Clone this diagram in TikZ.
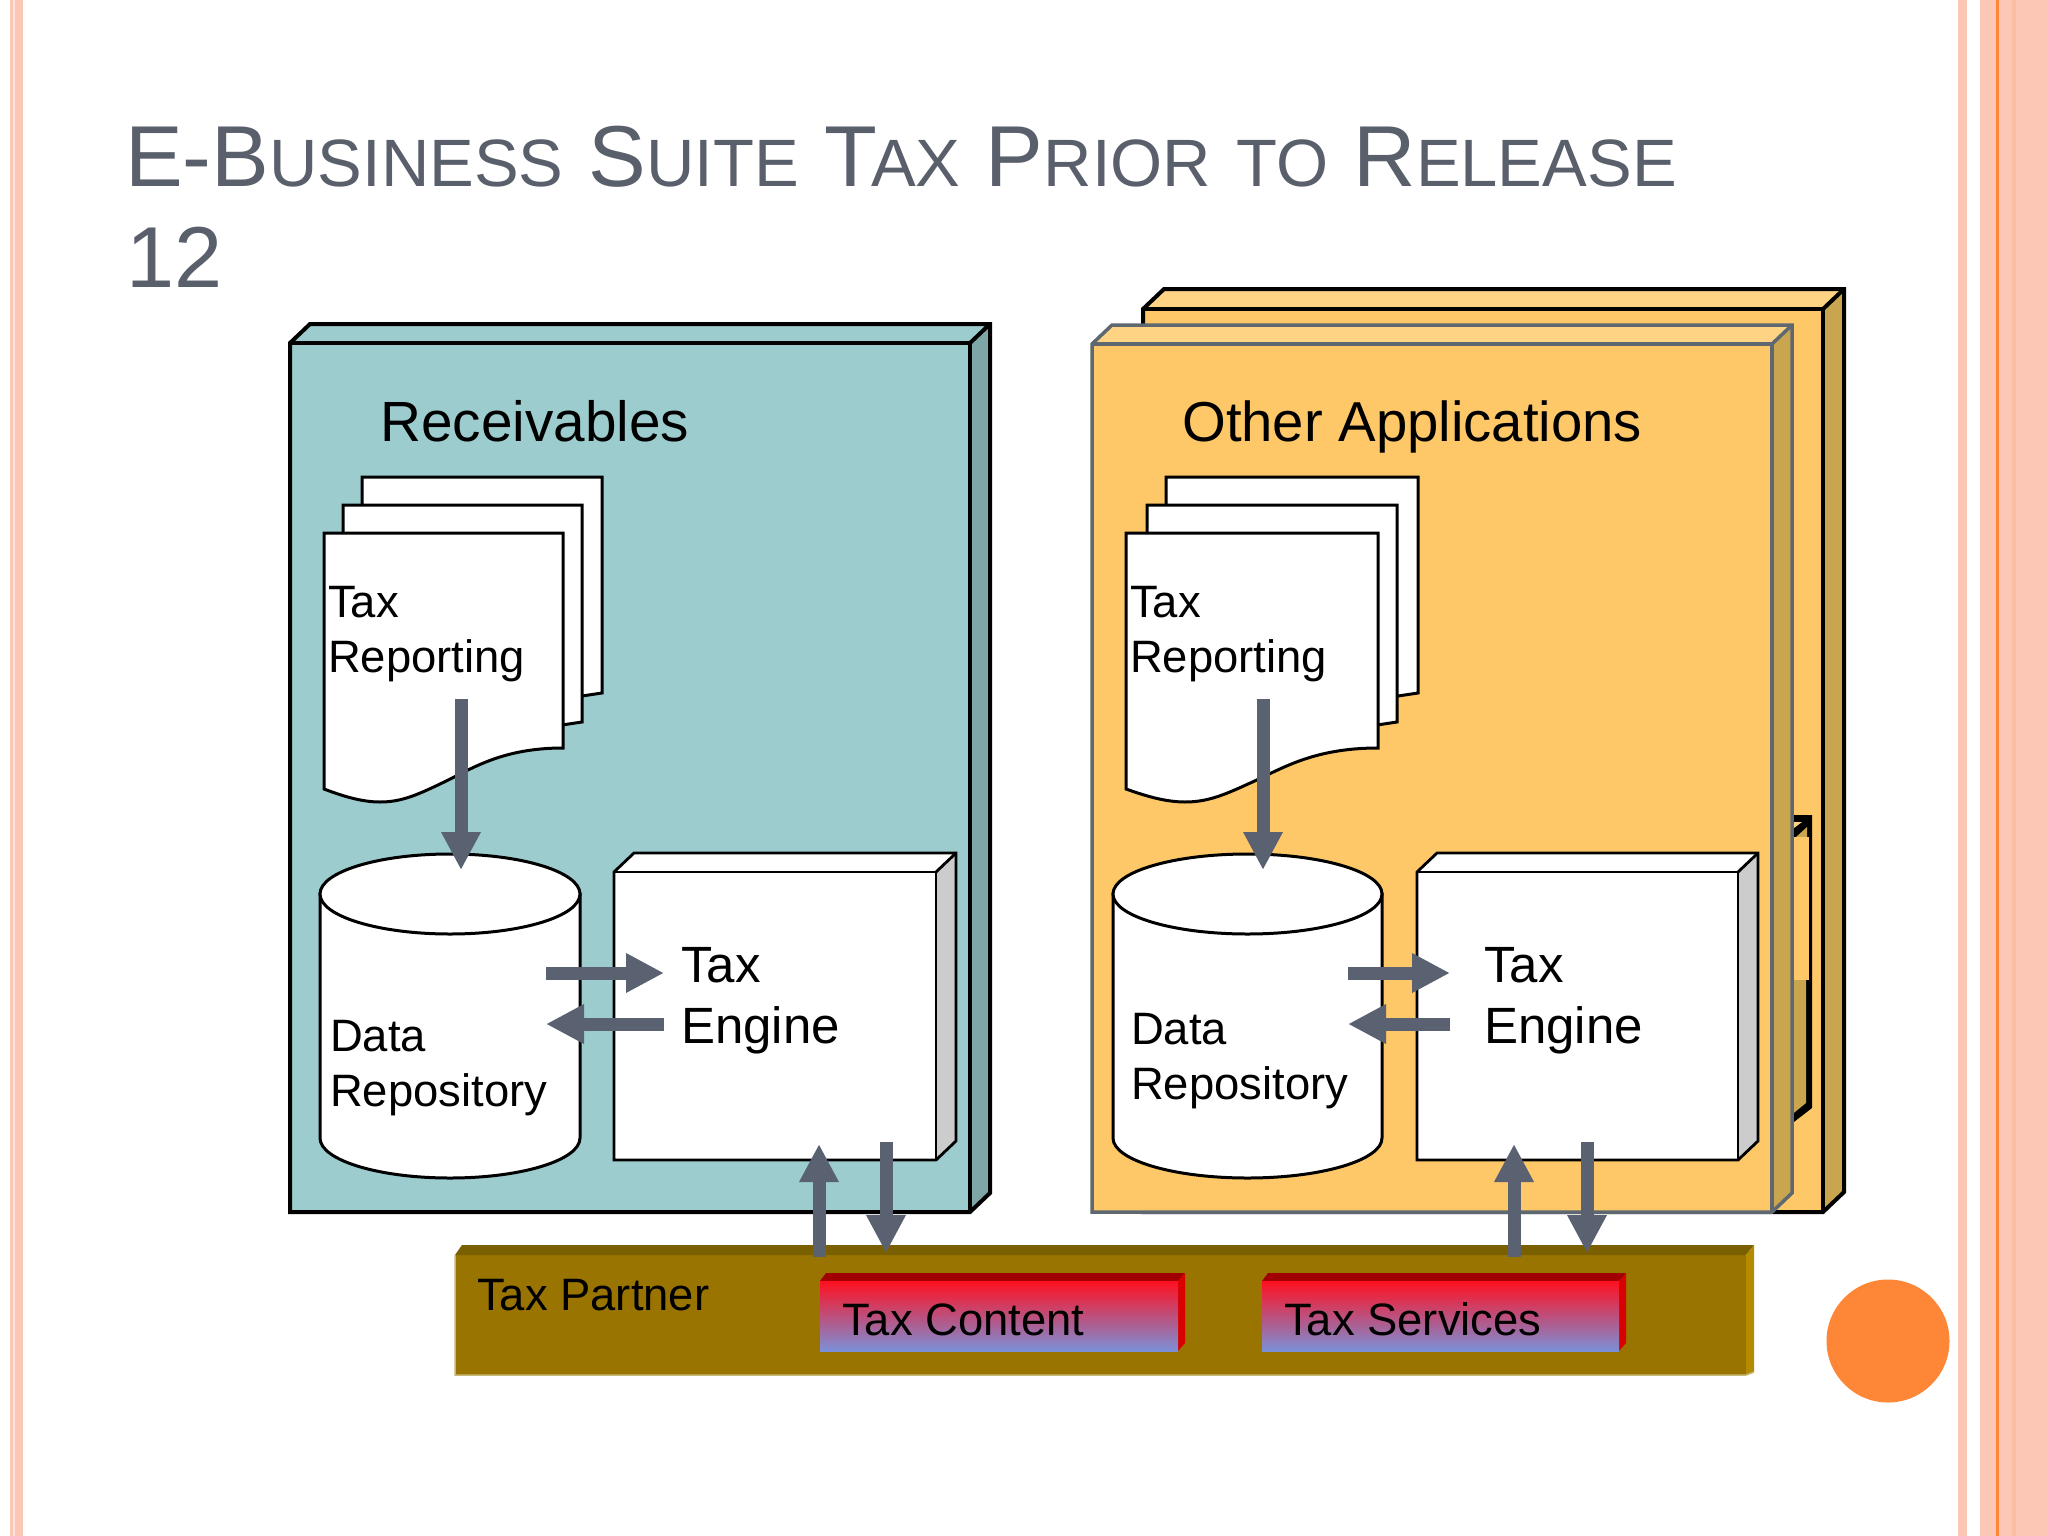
\documentclass[tikz,border=0pt]{standalone}
\usepackage{fontspec}
\setmainfont{Liberation Sans}
\usetikzlibrary{arrows.meta,shapes.geometric}
\definecolor{stripe}{HTML}{FCC8B5}
\definecolor{stripep}{HTML}{FDE3D8}
\definecolor{orangec}{HTML}{FE8637}
\definecolor{titlec}{HTML}{5A5F6C}
\definecolor{arrowc}{HTML}{5A6272}
\definecolor{tealf}{HTML}{9CCCCE}
\definecolor{teals}{HTML}{7FA6A7}
\definecolor{yelf}{HTML}{FEC868}
\definecolor{yelt}{HTML}{FED383}
\definecolor{yels}{HTML}{C9A550}
\definecolor{greyl}{HTML}{5E6870}
\definecolor{barf}{HTML}{9A7400}
\definecolor{bart}{HTML}{7A6000}
\definecolor{bars}{HTML}{B38A00}
\definecolor{barl}{HTML}{C8B878}
\definecolor{redt}{HTML}{A00000}
\definecolor{reds}{HTML}{D80000}
\definecolor{redg}{HTML}{FF1020}
\definecolor{blueg}{HTML}{7A90D8}
\newcommand{\tlg}[1]{{\fontsize{86.5}{87}\selectfont #1}}
\newcommand{\tsm}[1]{{\fontsize{67}{67}\selectfont #1}}
\newcommand{\tsp}{\hspace{25.3pt}}
% left top right bottom depth front top side style
\newcommand{\slab}[9]{%
  \fill[#6] (#1,#2) rectangle (#3,#4);
  \fill[#7] (#1,#2) -- ({#1+#5},{#2-#5*0.95}) -- ({#3+#5},{#2-#5*0.95}) -- (#3,#2) -- cycle;
  \fill[#8] (#3,#2) -- ({#3+#5},{#2-#5*0.95}) -- ({#3+#5},{#4-#5*0.95}) -- (#3,#4) -- cycle;
  \draw[#9] (#1,#2) -- (#3,#2) -- (#3,#4);
  \draw[#9] (#3,#2) -- ({#3+#5},{#2-#5*0.95});
  \draw[#9,line join=miter] (#1,#2) -- ({#1+#5},{#2-#5*0.95}) -- ({#3+#5},{#2-#5*0.95}) -- ({#3+#5},{#4-#5*0.95}) -- (#3,#4) -- (#1,#4) -- cycle;
}
\newcommand{\sheet}[4]{%
  \draw[sheetline,fill=white] (#1,#2) -- (#3,#2) -- (#3,#4) -- ({#3-20},{#4+3}) -- ({#1+20},{#4+3}) -- (#1,{#4+3}) -- cycle;
}
\newcommand{\cyl}[6]{% left right topY bottomY ry name
  \draw[cylline,fill=white] (#1,{#3+#5}) -- (#1,{#4-#5})
    .. controls (#1,{#4-#5+0.5523*#5}) and ({#1+(#2-#1)*0.2238},#4) .. ({(#1+#2)/2},#4)
    .. controls ({#2-(#2-#1)*0.2238},#4) and (#2,{#4-#5+0.5523*#5}) .. (#2,{#4-#5}) -- (#2,{#3+#5}) -- cycle;
  \node[cylline,draw,fill=white,ellipse,inner sep=0pt,minimum width={(#2-#1)*1pt},minimum height={2*#5*1pt}] (#6) at ({(#1+#2)/2},{#3+#5}) {};
}
\tikzset{
  x=1pt,y=-1pt,
  sheetline/.style={draw=black,line width=3pt,line join=miter},
  cylline/.style={draw=black,line width=3pt},
  flow/.style={draw=arrowc,line width=13pt,-{Triangle[width=37pt,length=38pt]}},
  txt/.style={anchor=base west,inner sep=0pt,text=black},
  blackb/.style={draw=black,line width=4pt},
  greyb/.style={draw=greyl,line width=3.5pt},
  thinb/.style={draw=black,line width=2.8pt},
  ttl/.style={anchor=base west,inner sep=0pt,text=titlec},
  small/.style={font=\fontsize{45.4}{46}\selectfont},
  mid/.style={font=\fontsize{51}{51}\selectfont},
}
\begin{document}
\begin{tikzpicture}
\useasboundingbox (0,0) rectangle (2048,1536);
\fill[white] (0,0) rectangle (2048,1536);
% side stripes
\fill[stripe] (10,0) rectangle (23,1536);
\fill[stripep] (13,0) rectangle (14.5,1536);
\fill[stripe] (1958,0) rectangle (1967,1536);
\fill[stripe] (1980,0) rectangle (2048,1536);
\fill[orangec] (1996,0) rectangle (1998.5,1536);
\fill[stripe!85!orangec] (2012,0) rectangle (2016,1536);
% title
\node[ttl] (title1) at (125,186) {\tlg{E-B}\tsm{USINESS}\tsp\tlg{S}\tsm{UITE}\tsp\tlg{T}\kern-6pt\tsm{AX}\tsp\tlg{P}\tsm{RIOR}\tsp\tsm{TO}\tsp\tlg{R}\tsm{ELEASE}};
\node[ttl] (title2) at (126,287) {\tlg{12}};
% back yellow
\slab{1143}{309}{1823}{1212}{21}{yelf}{yelt}{yels}{blackb}
% sliver of third panel
\fill[black] (1790,815) -- (1812,815) -- (1812,1108) -- (1790,1125) -- cycle;
\fill[yelt] (1790,822) -- (1802,822) -- (1790,831) -- cycle;
\fill[yels] (1796,837) -- (1807,827) -- (1807,837) -- cycle;
\fill[yelf] (1790,837) rectangle (1809,980);
\fill[yels] (1790,980) -- (1806,980) -- (1806,1103) -- (1790,1116) -- cycle;
% front panels
\slab{290}{343}{970}{1212}{20}{tealf}{tealf}{teals}{blackb}
\slab{1092}{344}{1772}{1212}{20}{yelf}{yelt}{yels}{greyb}
% panel titles
\node[txt,font=\fontsize{56.7}{57}\selectfont] (recv) at (380,441) {Receivables};
\node[txt,font=\fontsize{56.3}{57}\selectfont] (other) at (1182,441) {Other Applications};
% documents left
\sheet{362}{477}{602}{693}
\sheet{343}{505}{582}{722}
\draw[sheetline,fill=white] (324,533) -- (563,533) -- (563,748)
  .. controls (500,748) and (470,770) .. (440,784)
  .. controls (415,796) and (400,802) .. (380,802)
  .. controls (360,802) and (340,795) .. (324,789) -- cycle;
\node[txt,small] (trep1a) at (328,617) {Tax};
\node[txt,small] (trep1b) at (328,672) {Reporting};
% documents right
\sheet{1166}{477}{1418}{693}
\sheet{1147}{505}{1397}{722}
\draw[sheetline,fill=white] (1126,533) -- (1378,533) -- (1378,748)
  .. controls (1311,748) and (1280,770) .. (1248,784)
  .. controls (1222,796) and (1206,802) .. (1185,802)
  .. controls (1164,802) and (1143,795) .. (1126,789) -- cycle;
\node[txt,small] (trep2a) at (1130,617) {Tax};
\node[txt,small] (trep2b) at (1130,672) {Reporting};
% cylinders
\cyl{320}{580}{854}{1178}{40}{repo1}
\cyl{1113}{1382}{854}{1178}{40}{repo2}
\node[txt,small] (d1a) at (330,1051) {Data};
\node[txt,small] (d1b) at (330,1106) {Repository};
\node[txt,small] (d2a) at (1131,1044) {Data};
\node[txt,small] (d2b) at (1131,1099) {Repository};
% engines
\slab{614}{872}{936}{1160}{20}{white}{white}{black!20}{thinb}
\slab{1417}{872}{1738}{1160}{20}{white}{white}{black!20}{thinb}
\node[txt,mid] (e1a) at (681,982) {Tax};
\node[txt,mid] (e1b) at (681,1043) {Engine};
\node[txt,mid] (e2a) at (1484,982) {Tax};
\node[txt,mid] (e2b) at (1484,1043) {Engine};
% partner bar
\fill[barf] (455,1255) rectangle (1746,1375);
\fill[bart] (455,1255) -- (462,1245) -- (1754,1245) -- (1746,1255) -- cycle;
\fill[bars] (1746,1255) -- (1754,1245) -- (1754,1372) -- (1746,1375) -- cycle;
\draw[barl,line width=1.5pt] (455,1255) -- (455,1375) -- (1746,1375) -- (1754,1372);
\node[txt,small] (partner) at (477,1310) {Tax Partner};
% content boxes
\foreach \lx/\rx/\nm/\lab/\tx in {820/1178/content/Tax Content/842,1262/1619/services/Tax Services/1284}{
  \fill[redt] (\lx,1281) -- ({\lx+6},1273) -- ({\rx+7},1273) -- (\rx,1281) -- cycle;
  \fill[reds] (\rx,1281) -- ({\rx+7},1273) -- ({\rx+7},1343) -- (\rx,1351) -- cycle;
  \shade[top color=redg,bottom color=blueg] (\lx,1281) rectangle (\rx,1351);
  \node[txt,small] (\nm) at (\tx,1335) {\lab};
}
% connector ends
\coordinate (a1s) at (461,699);   \coordinate (a1e) at (461,870);
\coordinate (a2s) at (1263,699);  \coordinate (a2e) at (1263,870);
\coordinate (r1s) at (546,973);   \coordinate (r1e) at (664,973);
\coordinate (l1s) at (664,1024);  \coordinate (l1e) at (546,1024);
\coordinate (r2s) at (1348,973);  \coordinate (r2e) at (1450,973);
\coordinate (l2s) at (1450,1024); \coordinate (l2e) at (1348,1024);
\coordinate (u1s) at (819,1257);  \coordinate (u1e) at (819,1144);
\coordinate (d1s) at (886,1142);  \coordinate (d1e) at (886,1253);
\coordinate (u2s) at (1514,1257); \coordinate (u2e) at (1514,1144);
\coordinate (d2s) at (1587,1142); \coordinate (d2e) at (1587,1253);
\foreach \p in {a1,a2,r1,l1,r2,l2,u1,d1,u2,d2}{
  \draw[flow] (\p s) -- (\p e);
}
% decoration
\node[circle,fill=orangec,minimum size=123pt,inner sep=0pt] (dot) at (1888,1341) {};
\end{tikzpicture}
\end{document}
